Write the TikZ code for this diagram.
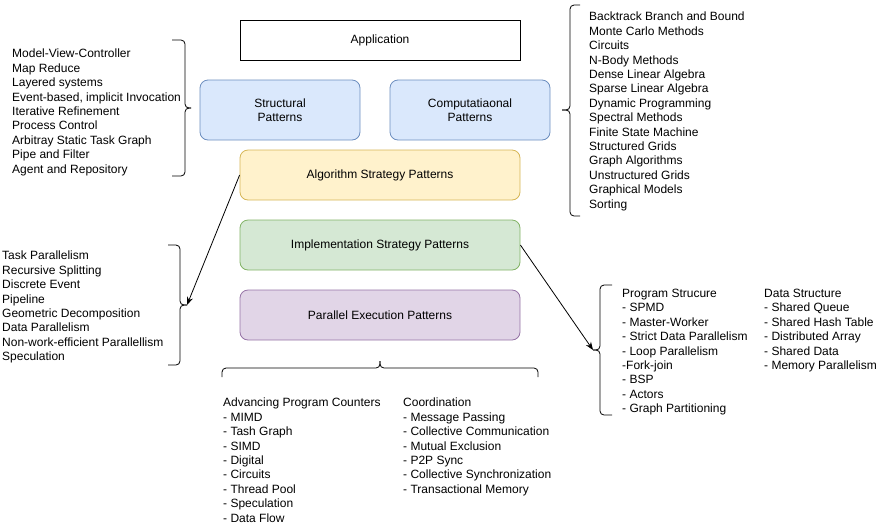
\documentclass[tikz,border=0pt]{standalone}
\usepackage{fontspec}
\setmainfont{Liberation Sans}
\usetikzlibrary{arrows.meta, positioning}

\definecolor{bluefill}{HTML}{DAE8FC}
\definecolor{blueline}{HTML}{6C8EBF}
\definecolor{yellowfill}{HTML}{FFF2CC}
\definecolor{yellowline}{HTML}{D6B656}
\definecolor{greenfill}{HTML}{D5E8D4}
\definecolor{greenline}{HTML}{82B366}
\definecolor{purplefill}{HTML}{E1D5E7}
\definecolor{purpleline}{HTML}{9673A6}

\begin{document}
\begin{tikzpicture}[x=1pt, y=-1pt,
    box/.style={rectangle, rounded corners=8pt, line width=0.8pt,
                minimum width=280pt, minimum height=50pt, align=center,
                font=\fontsize{12}{14.4}\selectfont},
    smallbox/.style={box, minimum width=160pt, minimum height=60pt},
    list/.style={anchor=north west, inner sep=0pt, align=left,
                 font=\fontsize{12}{14.4}\selectfont},
    bracket/.style={draw, line width=0.8pt, rounded corners=4pt},
    arrow/.style={-{Stealth[length=8pt, width=6pt]}, line width=0.8pt}
]
    \useasboundingbox (0,0) rectangle (891,531);
    % pattern layers
    \node[box, draw=black, rounded corners=0pt, minimum height=40pt] (app) at (380,40) {Application};
    \node[smallbox, draw=blueline, fill=bluefill] (struct) at (280,110) {Structural\\Patterns};
    \node[smallbox, draw=blueline, fill=bluefill] (comp) at (470,110) {Computatiaonal\\Patterns};
    \node[box, draw=yellowline, fill=yellowfill] (alg) at (380,175) {Algorithm Strategy Patterns};
    \node[box, draw=greenline, fill=greenfill, below=19.2pt of alg] (impl) {Implementation Strategy Patterns};
    \node[box, draw=purpleline, fill=purplefill, below=19.2pt of impl] (pexec) {Parallel Execution Patterns};

    % lists
    \node[list] (structlist) at (12,49) {Model-View-Controller\\Map Reduce\\Layered systems\\
        Event-based, implicit Invocation\\Iterative Refinement\\Process Control\\
        Arbitray Static Task Graph\\Pipe and Filter\\Agent and Repository};
    \node[list] (complist) at (589,12) {Backtrack Branch and Bound\\Monte Carlo Methods\\Circuits\\
        N-Body Methods\\Dense Linear Algebra\\Sparse Linear Algebra\\Dynamic Programming\\
        Spectral Methods\\Finite State Machine\\Structured Grids\\Graph Algorithms\\
        Unstructured Grids\\Graphical Models\\Sorting};
    \node[list] (alglist) at (2,251) {Task Parallelism\\Recursive Splitting\\Discrete Event\\Pipeline\\
        Geometric Decomposition\\Data Parallelism\\Non-work-efficient Parallellism\\Speculation};
    \node[list] (proglist) at (622,289) {Program Strucure\\- SPMD\\- Master-Worker\\
        - Strict Data Parallelism\\- Loop Parallelism\\-Fork-join\\- BSP\\- Actors\\- Graph Partitioning};
    \node[list] (datalist) at (764,289) {Data Structure\\- Shared Queue\\- Shared Hash Table\\
        - Distributed Array\\- Shared Data\\- Memory Parallelism};
    \node[list] (pclist) at (223,398) {Advancing Program Counters\\- MIMD\\- Tash Graph\\- SIMD\\
        - Digital\\- Circuits\\- Thread Pool\\- Speculation\\- Data Flow};
    \node[list] (coordlist) at (403,398) {Coordination\\- Message Passing\\- Collective Communication\\
        - Mutual Exclusion\\- P2P Sync\\- Collective Synchronization\\- Transactional Memory};

    % brackets
    \coordinate (structtip) at (191,108);
    \coordinate (comptip) at (562,110);
    \coordinate (algtip) at (187,305);
    \coordinate (impltip) at (593,350);
    \coordinate (pexectip) at (380,361);
    \draw[bracket] (172,40) -- (185,40) -- (185,108) -- (structtip);
    \draw[bracket] (structtip) -- (185,108) -- (185,176) -- (172,176);
    \draw[bracket] (580,5) -- (570,5) -- (570,110) -- (comptip);
    \draw[bracket] (comptip) -- (570,110) -- (570,216) -- (580,216);
    \draw[bracket] (168,245) -- (180,245) -- (180,305) -- (algtip);
    \draw[bracket] (algtip) -- (180,305) -- (180,365) -- (168,365);
    \draw[bracket] (612,285) -- (600,285) -- (600,350) -- (impltip);
    \draw[bracket] (impltip) -- (600,350) -- (600,415) -- (612,415);
    \draw[bracket] (222,377) -- (222,368) -- (380,368) -- (pexectip);
    \draw[bracket] (pexectip) -- (380,368) -- (538,368) -- (538,377);

    % connectors
    \draw[arrow] (alg.west) -- (algtip);
    \draw[arrow] (impl.east) -- (impltip);
\end{tikzpicture}
\end{document}
